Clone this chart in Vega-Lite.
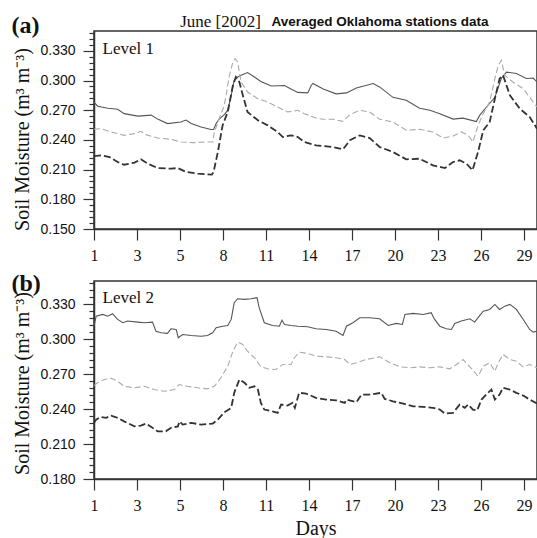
{
"$schema":"https://vega.github.io/schema/vega-lite/v6.json",
"background":"white",
"padding":{"left":10,"top":11,"right":0,"bottom":0},
"spacing":6,
"config":{
 "view":{"stroke":"#333","strokeWidth":1.5},
 "axis":{"domainColor":"#333","domainWidth":1.5,"tickColor":"#333","tickWidth":1.2,"grid":false,"labelColor":"#111","titleColor":"#111","labelFlush":false,"labelOverlap":false}
},
"datasets":{
"a":[
{"s":"solid","x":0,"v":0.278},{"s":"solid","x":0.09,"v":0.274},{"s":"solid","x":0.32,"v":0.272},{"s":"solid","x":0.55,"v":0.271},{"s":"solid","x":0.70,"v":0.2665},{"s":"solid","x":1.02,"v":0.264},{"s":"solid","x":1.33,"v":0.265},{"s":"solid","x":1.48,"v":0.261},{"s":"solid","x":1.71,"v":0.2565},{"s":"solid","x":2.02,"v":0.258},{"s":"solid","x":2.14,"v":0.260},{"s":"solid","x":2.26,"v":0.2565},{"s":"solid","x":2.49,"v":0.253},{"s":"solid","x":2.72,"v":0.2505},{"s":"solid","x":2.78,"v":0.2505},{"s":"solid","x":2.84,"v":0.2565},{"s":"solid","x":2.91,"v":0.261},{"s":"solid","x":3.03,"v":0.2655},{"s":"solid","x":3.11,"v":0.270},{"s":"solid","x":3.19,"v":0.285},{"s":"solid","x":3.26,"v":0.300},{"s":"solid","x":3.34,"v":0.3035},{"s":"solid","x":3.46,"v":0.306},{"s":"solid","x":3.57,"v":0.308},{"s":"solid","x":3.73,"v":0.3035},{"s":"solid","x":3.88,"v":0.299},{"s":"solid","x":4.12,"v":0.2945},{"s":"solid","x":4.43,"v":0.295},{"s":"solid","x":4.58,"v":0.2915},{"s":"solid","x":4.74,"v":0.288},{"s":"solid","x":4.97,"v":0.2875},{"s":"solid","x":5.05,"v":0.295},{"s":"solid","x":5.09,"v":0.297},{"s":"solid","x":5.33,"v":0.2915},{"s":"solid","x":5.63,"v":0.2865},{"s":"solid","x":5.87,"v":0.2875},{"s":"solid","x":6.10,"v":0.2925},{"s":"solid","x":6.49,"v":0.297},{"s":"solid","x":6.64,"v":0.2935},{"s":"solid","x":6.95,"v":0.283},{"s":"solid","x":7.26,"v":0.280},{"s":"solid","x":7.57,"v":0.272},{"s":"solid","x":7.81,"v":0.270},{"s":"solid","x":8.04,"v":0.2665},{"s":"solid","x":8.35,"v":0.261},{"s":"solid","x":8.58,"v":0.262},{"s":"solid","x":8.89,"v":0.2585},{"s":"solid","x":8.97,"v":0.265},{"s":"solid","x":9.12,"v":0.273},{"s":"solid","x":9.32,"v":0.283},{"s":"solid","x":9.47,"v":0.302},{"s":"solid","x":9.59,"v":0.3085},{"s":"solid","x":9.82,"v":0.307},{"s":"solid","x":10.05,"v":0.302},{"s":"solid","x":10.21,"v":0.3025},{"s":"solid","x":10.30,"v":0.2985},
{"s":"light","x":0,"v":0.2507},{"s":"light","x":0.16,"v":0.2513},{"s":"light","x":0.40,"v":0.248},{"s":"light","x":0.70,"v":0.2446},{"s":"light","x":0.94,"v":0.2463},{"s":"light","x":1.09,"v":0.2487},{"s":"light","x":1.21,"v":0.2453},{"s":"light","x":1.48,"v":0.2419},{"s":"light","x":1.79,"v":0.2406},{"s":"light","x":2.02,"v":0.2379},{"s":"light","x":2.33,"v":0.2372},{"s":"light","x":2.57,"v":0.2379},{"s":"light","x":2.76,"v":0.2379},{"s":"light","x":2.80,"v":0.248},{"s":"light","x":2.91,"v":0.2614},{"s":"light","x":3.03,"v":0.2749},{"s":"light","x":3.15,"v":0.3053},{"s":"light","x":3.22,"v":0.317},{"s":"light","x":3.28,"v":0.322},{"s":"light","x":3.34,"v":0.3187},{"s":"light","x":3.42,"v":0.2985},{"s":"light","x":3.57,"v":0.2884},{"s":"light","x":3.81,"v":0.2816},{"s":"light","x":4.04,"v":0.2783},{"s":"light","x":4.27,"v":0.2732},{"s":"light","x":4.50,"v":0.2682},{"s":"light","x":4.74,"v":0.2699},{"s":"light","x":4.89,"v":0.2665},{"s":"light","x":5.16,"v":0.2621},{"s":"light","x":5.33,"v":0.2608},{"s":"light","x":5.56,"v":0.2608},{"s":"light","x":5.79,"v":0.2588},{"s":"light","x":5.95,"v":0.2655},{"s":"light","x":6.18,"v":0.2699},{"s":"light","x":6.41,"v":0.2682},{"s":"light","x":6.64,"v":0.2608},{"s":"light","x":6.95,"v":0.2581},{"s":"light","x":7.26,"v":0.2497},{"s":"light","x":7.57,"v":0.2507},{"s":"light","x":7.88,"v":0.248},{"s":"light","x":8.12,"v":0.2419},{"s":"light","x":8.35,"v":0.2439},{"s":"light","x":8.54,"v":0.248},{"s":"light","x":8.70,"v":0.2446},{"s":"light","x":8.81,"v":0.2379},{"s":"light","x":8.93,"v":0.2547},{"s":"light","x":9.05,"v":0.2665},{"s":"light","x":9.20,"v":0.2783},{"s":"light","x":9.32,"v":0.3018},{"s":"light","x":9.40,"v":0.3153},{"s":"light","x":9.47,"v":0.3204},{"s":"light","x":9.55,"v":0.3053},{"s":"light","x":9.74,"v":0.2985},{"s":"light","x":9.98,"v":0.2917},{"s":"light","x":10.21,"v":0.2783},{"s":"light","x":10.30,"v":0.2732},
{"s":"dark","x":0,"v":0.2237},{"s":"dark","x":0.16,"v":0.2244},{"s":"dark","x":0.36,"v":0.2227},{"s":"dark","x":0.55,"v":0.2177},{"s":"dark","x":0.70,"v":0.2149},{"s":"dark","x":0.94,"v":0.217},{"s":"dark","x":1.09,"v":0.2204},{"s":"dark","x":1.25,"v":0.216},{"s":"dark","x":1.48,"v":0.2116},{"s":"dark","x":1.79,"v":0.2109},{"s":"dark","x":1.95,"v":0.2116},{"s":"dark","x":2.14,"v":0.2076},{"s":"dark","x":2.41,"v":0.2059},{"s":"dark","x":2.74,"v":0.2049},{"s":"dark","x":2.78,"v":0.2076},{"s":"dark","x":2.88,"v":0.2278},{"s":"dark","x":2.99,"v":0.2547},{"s":"dark","x":3.11,"v":0.2682},{"s":"dark","x":3.23,"v":0.2951},{"s":"dark","x":3.30,"v":0.3035},{"s":"dark","x":3.38,"v":0.2985},{"s":"dark","x":3.46,"v":0.2851},{"s":"dark","x":3.57,"v":0.2682},{"s":"dark","x":3.81,"v":0.2598},{"s":"dark","x":4.04,"v":0.2547},{"s":"dark","x":4.27,"v":0.248},{"s":"dark","x":4.39,"v":0.2429},{"s":"dark","x":4.58,"v":0.2446},{"s":"dark","x":4.74,"v":0.2429},{"s":"dark","x":4.89,"v":0.2379},{"s":"dark","x":5.16,"v":0.2345},{"s":"dark","x":5.33,"v":0.2338},{"s":"dark","x":5.56,"v":0.2328},{"s":"dark","x":5.79,"v":0.2305},{"s":"dark","x":5.95,"v":0.2396},{"s":"dark","x":6.18,"v":0.2446},{"s":"dark","x":6.41,"v":0.2419},{"s":"dark","x":6.64,"v":0.2328},{"s":"dark","x":6.95,"v":0.2278},{"s":"dark","x":7.26,"v":0.2204},{"s":"dark","x":7.57,"v":0.221},{"s":"dark","x":7.88,"v":0.2143},{"s":"dark","x":8.16,"v":0.2116},{"s":"dark","x":8.35,"v":0.2177},{"s":"dark","x":8.50,"v":0.2194},{"s":"dark","x":8.66,"v":0.216},{"s":"dark","x":8.80,"v":0.2093},{"s":"dark","x":8.93,"v":0.2278},{"s":"dark","x":9.05,"v":0.2497},{"s":"dark","x":9.20,"v":0.2581},{"s":"dark","x":9.32,"v":0.2816},{"s":"dark","x":9.43,"v":0.3018},{"s":"dark","x":9.51,"v":0.3053},{"s":"dark","x":9.67,"v":0.2851},{"s":"dark","x":9.90,"v":0.2715},{"s":"dark","x":10.13,"v":0.2631},{"s":"dark","x":10.30,"v":0.2513}
],
"b":[
{"s":"solid","x":0,"v":0.3112},{"s":"solid","x":0.05,"v":0.3198},{"s":"solid","x":0.20,"v":0.3213},{"s":"solid","x":0.32,"v":0.3198},{"s":"solid","x":0.43,"v":0.3219},{"s":"solid","x":0.55,"v":0.317},{"s":"solid","x":0.67,"v":0.3142},{"s":"solid","x":0.78,"v":0.3156},{"s":"solid","x":1.02,"v":0.3147},{"s":"solid","x":1.17,"v":0.3142},{"s":"solid","x":1.36,"v":0.3147},{"s":"solid","x":1.44,"v":0.3069},{"s":"solid","x":1.56,"v":0.3056},{"s":"solid","x":1.71,"v":0.305},{"s":"solid","x":1.79,"v":0.309},{"s":"solid","x":1.91,"v":0.3084},{"s":"solid","x":1.96,"v":0.3013},{"s":"solid","x":2.06,"v":0.3041},{"s":"solid","x":2.26,"v":0.3032},{"s":"solid","x":2.49,"v":0.3026},{"s":"solid","x":2.64,"v":0.3032},{"s":"solid","x":2.76,"v":0.3056},{"s":"solid","x":2.84,"v":0.3099},{"s":"solid","x":2.99,"v":0.3112},{"s":"solid","x":3.11,"v":0.3118},{"s":"solid","x":3.19,"v":0.317},{"s":"solid","x":3.26,"v":0.3314},{"s":"solid","x":3.34,"v":0.3348},{"s":"solid","x":3.50,"v":0.3342},{"s":"solid","x":3.65,"v":0.3348},{"s":"solid","x":3.79,"v":0.3357},{"s":"solid","x":3.84,"v":0.3271},{"s":"solid","x":3.96,"v":0.3142},{"s":"solid","x":4.15,"v":0.3118},{"s":"solid","x":4.31,"v":0.3112},{"s":"solid","x":4.37,"v":0.3164},{"s":"solid","x":4.43,"v":0.3127},{"s":"solid","x":4.58,"v":0.3118},{"s":"solid","x":4.74,"v":0.3112},{"s":"solid","x":4.97,"v":0.3107},{"s":"solid","x":5.16,"v":0.309},{"s":"solid","x":5.40,"v":0.3084},{"s":"solid","x":5.63,"v":0.3069},{"s":"solid","x":5.79,"v":0.3032},{"s":"solid","x":5.87,"v":0.3112},{"s":"solid","x":6.02,"v":0.3142},{"s":"solid","x":6.18,"v":0.3185},{"s":"solid","x":6.41,"v":0.3185},{"s":"solid","x":6.64,"v":0.3176},{"s":"solid","x":6.84,"v":0.3118},{"s":"solid","x":7.03,"v":0.3136},{"s":"solid","x":7.17,"v":0.3127},{"s":"solid","x":7.23,"v":0.3213},{"s":"solid","x":7.42,"v":0.3222},{"s":"solid","x":7.65,"v":0.3213},{"s":"solid","x":7.84,"v":0.3228},{"s":"solid","x":7.92,"v":0.317},{"s":"solid","x":8.04,"v":0.3112},{"s":"solid","x":8.19,"v":0.309},{"s":"solid","x":8.31,"v":0.3084},{"s":"solid","x":8.39,"v":0.3136},{"s":"solid","x":8.54,"v":0.3156},{"s":"solid","x":8.74,"v":0.3176},{"s":"solid","x":8.85,"v":0.3147},{"s":"solid","x":8.93,"v":0.3185},{"s":"solid","x":9.05,"v":0.3241},{"s":"solid","x":9.20,"v":0.3256},{"s":"solid","x":9.32,"v":0.3299},{"s":"solid","x":9.43,"v":0.3256},{"s":"solid","x":9.55,"v":0.3284},{"s":"solid","x":9.67,"v":0.3299},{"s":"solid","x":9.82,"v":0.3256},{"s":"solid","x":9.98,"v":0.317},{"s":"solid","x":10.13,"v":0.3084},{"s":"solid","x":10.21,"v":0.3061},{"s":"solid","x":10.30,"v":0.3069},
{"s":"light","x":0,"v":0.2602},{"s":"light","x":0.08,"v":0.2626},{"s":"light","x":0.24,"v":0.2654},{"s":"light","x":0.40,"v":0.2665},{"s":"light","x":0.55,"v":0.2639},{"s":"light","x":0.70,"v":0.2596},{"s":"light","x":0.94,"v":0.2583},{"s":"light","x":1.17,"v":0.2596},{"s":"light","x":1.40,"v":0.2568},{"s":"light","x":1.64,"v":0.2553},{"s":"light","x":1.87,"v":0.2568},{"s":"light","x":1.98,"v":0.2611},{"s":"light","x":2.17,"v":0.2596},{"s":"light","x":2.41,"v":0.2583},{"s":"light","x":2.64,"v":0.2574},{"s":"light","x":2.80,"v":0.2596},{"s":"light","x":2.95,"v":0.2669},{"s":"light","x":3.11,"v":0.2768},{"s":"light","x":3.23,"v":0.2897},{"s":"light","x":3.34,"v":0.2975},{"s":"light","x":3.46,"v":0.2955},{"s":"light","x":3.57,"v":0.2897},{"s":"light","x":3.73,"v":0.2841},{"s":"light","x":3.88,"v":0.2763},{"s":"light","x":4.04,"v":0.2746},{"s":"light","x":4.23,"v":0.274},{"s":"light","x":4.31,"v":0.2763},{"s":"light","x":4.39,"v":0.2783},{"s":"light","x":4.58,"v":0.2783},{"s":"light","x":4.66,"v":0.2841},{"s":"light","x":4.77,"v":0.2889},{"s":"light","x":4.97,"v":0.2878},{"s":"light","x":5.16,"v":0.2855},{"s":"light","x":5.40,"v":0.2849},{"s":"light","x":5.63,"v":0.2841},{"s":"light","x":5.83,"v":0.2826},{"s":"light","x":5.95,"v":0.2783},{"s":"light","x":6.10,"v":0.2798},{"s":"light","x":6.33,"v":0.2826},{"s":"light","x":6.64,"v":0.2849},{"s":"light","x":6.88,"v":0.2798},{"s":"light","x":7.11,"v":0.2763},{"s":"light","x":7.34,"v":0.2755},{"s":"light","x":7.57,"v":0.2763},{"s":"light","x":7.81,"v":0.2755},{"s":"light","x":8.04,"v":0.2763},{"s":"light","x":8.27,"v":0.2746},{"s":"light","x":8.43,"v":0.2783},{"s":"light","x":8.58,"v":0.2826},{"s":"light","x":8.74,"v":0.2763},{"s":"light","x":8.93,"v":0.2682},{"s":"light","x":9.05,"v":0.2768},{"s":"light","x":9.20,"v":0.2798},{"s":"light","x":9.32,"v":0.2725},{"s":"light","x":9.40,"v":0.2798},{"s":"light","x":9.51,"v":0.2869},{"s":"light","x":9.67,"v":0.2826},{"s":"light","x":9.82,"v":0.2811},{"s":"light","x":9.98,"v":0.2763},{"s":"light","x":10.13,"v":0.2783},{"s":"light","x":10.30,"v":0.2755},
{"s":"dark","x":0,"v":0.2282},{"s":"dark","x":0.05,"v":0.231},{"s":"dark","x":0.16,"v":0.2333},{"s":"dark","x":0.28,"v":0.2325},{"s":"dark","x":0.40,"v":0.2344},{"s":"dark","x":0.55,"v":0.2325},{"s":"dark","x":0.70,"v":0.2295},{"s":"dark","x":0.94,"v":0.2252},{"s":"dark","x":1.09,"v":0.2258},{"s":"dark","x":1.21,"v":0.2276},{"s":"dark","x":1.36,"v":0.2239},{"s":"dark","x":1.48,"v":0.2209},{"s":"dark","x":1.67,"v":0.2209},{"s":"dark","x":1.79,"v":0.2239},{"s":"dark","x":1.95,"v":0.2252},{"s":"dark","x":1.99,"v":0.2295},{"s":"dark","x":2.06,"v":0.2267},{"s":"dark","x":2.26,"v":0.2282},{"s":"dark","x":2.49,"v":0.2267},{"s":"dark","x":2.76,"v":0.2276},{"s":"dark","x":2.88,"v":0.231},{"s":"dark","x":3.03,"v":0.2373},{"s":"dark","x":3.19,"v":0.2411},{"s":"dark","x":3.26,"v":0.254},{"s":"dark","x":3.38,"v":0.2654},{"s":"dark","x":3.50,"v":0.2626},{"s":"dark","x":3.61,"v":0.2583},{"s":"dark","x":3.73,"v":0.2596},{"s":"dark","x":3.81,"v":0.2568},{"s":"dark","x":3.88,"v":0.2454},{"s":"dark","x":3.96,"v":0.2396},{"s":"dark","x":4.15,"v":0.2381},{"s":"dark","x":4.27,"v":0.2368},{"s":"dark","x":4.35,"v":0.2439},{"s":"dark","x":4.50,"v":0.243},{"s":"dark","x":4.62,"v":0.2454},{"s":"dark","x":4.67,"v":0.2411},{"s":"dark","x":4.77,"v":0.254},{"s":"dark","x":4.93,"v":0.2534},{"s":"dark","x":5.16,"v":0.2497},{"s":"dark","x":5.40,"v":0.2482},{"s":"dark","x":5.63,"v":0.2476},{"s":"dark","x":5.83,"v":0.2454},{"s":"dark","x":5.87,"v":0.2482},{"s":"dark","x":6.10,"v":0.2459},{"s":"dark","x":6.22,"v":0.2525},{"s":"dark","x":6.41,"v":0.2525},{"s":"dark","x":6.68,"v":0.254},{"s":"dark","x":6.76,"v":0.2488},{"s":"dark","x":6.95,"v":0.2467},{"s":"dark","x":7.19,"v":0.2448},{"s":"dark","x":7.42,"v":0.2424},{"s":"dark","x":7.65,"v":0.2419},{"s":"dark","x":7.88,"v":0.2411},{"s":"dark","x":8.04,"v":0.2396},{"s":"dark","x":8.16,"v":0.2362},{"s":"dark","x":8.35,"v":0.2368},{"s":"dark","x":8.50,"v":0.2439},{"s":"dark","x":8.62,"v":0.2411},{"s":"dark","x":8.70,"v":0.2439},{"s":"dark","x":8.81,"v":0.2396},{"s":"dark","x":8.91,"v":0.239},{"s":"dark","x":9.01,"v":0.2482},{"s":"dark","x":9.12,"v":0.2525},{"s":"dark","x":9.24,"v":0.2568},{"s":"dark","x":9.32,"v":0.2482},{"s":"dark","x":9.43,"v":0.2525},{"s":"dark","x":9.51,"v":0.2583},{"s":"dark","x":9.67,"v":0.2568},{"s":"dark","x":9.82,"v":0.254},{"s":"dark","x":9.98,"v":0.2516},{"s":"dark","x":10.13,"v":0.2482},{"s":"dark","x":10.30,"v":0.2448}
]
},
"vconcat":[
{
 "width":443,"height":198,
 "data":{"name":"a"},
 "resolve":{"axis":{"x":"independent","y":"independent"}},
 "layer":[
  {"transform":[{"filter":"datum.s==='solid'"}],
   "mark":{"type":"line","color":"#555","strokeWidth":1.1},
   "encoding":{
    "x":{"field":"x","type":"quantitative","scale":{"domain":[0,10.3],"nice":false,"zero":false},
     "axis":{"orient":"bottom","values":[0,1,2,3,4,5,6,7,8,9,10],"labelExpr":"['1','3','5','8','11','14','17','20','23','26','29'][datum.value]","labelFont":"Liberation Serif","labelFontSize":16,"labelPadding":7,"tickSize":11,"title":null}},
    "y":{"field":"v","type":"quantitative","scale":{"domain":[0.15,0.35],"nice":false,"zero":false},
     "axis":{"orient":"left","values":[0.15,0.18,0.21,0.24,0.27,0.30,0.33],"format":".3f","labelFont":"Liberation Sans","labelFontSize":14,"labelPadding":8,"tickSize":11,"title":"Soil Moisture (m³ m⁻³)","titleFont":"Liberation Serif","titleFontSize":20,"titleFontWeight":"normal","titleAngle":-90,"titleX":-72,"titleY":108,"titleAlign":"center","titleBaseline":"middle"}}
   }},
  {"transform":[{"filter":"datum.s==='light'"}],
   "mark":{"type":"line","color":"#aaaaaa","strokeWidth":1.1,"strokeDash":[6,3]},
   "encoding":{
    "x":{"field":"x","type":"quantitative","scale":{"domain":[0,10.3],"nice":false,"zero":false},
     "axis":{"orient":"top","domain":false,"ticks":false,"labels":false,"title":"June [2002]","titleFont":"Liberation Serif","titleFontSize":17,"titleFontWeight":"normal","titleX":126,"titleY":-5,"titleAlign":"center","titleBaseline":"alphabetic","titleAngle":0}},
    "y":{"field":"v","type":"quantitative","scale":{"domain":[0.15,0.35],"nice":false,"zero":false},
     "axis":{"orient":"left","values":[0.156,0.162,0.168,0.174,0.186,0.192,0.198,0.204,0.216,0.222,0.228,0.234,0.246,0.252,0.258,0.264,0.276,0.282,0.288,0.294,0.306,0.312,0.318,0.324,0.336,0.342,0.348],"labels":false,"domain":false,"tickSize":5,"title":"(a)","titleFont":"Liberation Serif","titleFontSize":24,"titleFontWeight":"bold","titleAngle":0,"titleX":-83,"titleY":1,"titleAlign":"left","titleBaseline":"alphabetic"}}
   }},
  {"transform":[{"filter":"datum.s==='dark'"}],
   "mark":{"type":"line","color":"#333333","strokeWidth":1.8,"strokeDash":[7,3]},
   "encoding":{
    "x":{"field":"x","type":"quantitative","scale":{"domain":[0,10.3],"nice":false,"zero":false},
     "axis":{"orient":"top","domain":false,"ticks":false,"labels":false,"title":"Averaged Oklahoma stations data","titleFont":"Liberation Sans","titleFontSize":13.5,"titleFontWeight":"bold","titleX":177,"titleY":-6,"titleAlign":"left","titleBaseline":"alphabetic","titleAngle":0}},
    "y":{"field":"v","type":"quantitative","scale":{"domain":[0.15,0.35],"nice":false,"zero":false},"axis":null}
   }},
  {"data":{"values":[{"label":"Level 1"}]},
   "mark":{"type":"text","align":"left","baseline":"alphabetic","font":"Liberation Serif","fontSize":17,"color":"#111"},
   "encoding":{
    "x":{"datum":0.2,"type":"quantitative","axis":null},
    "y":{"datum":0.327,"type":"quantitative","axis":null},
    "text":{"field":"label"}
   }}
 ]
},
{
 "width":443,"height":198,
 "data":{"name":"b"},
 "resolve":{"axis":{"x":"independent","y":"independent"}},
 "layer":[
  {"transform":[{"filter":"datum.s==='solid'"}],
   "mark":{"type":"line","color":"#555","strokeWidth":1.1},
   "encoding":{
    "x":{"field":"x","type":"quantitative","scale":{"domain":[0,10.3],"nice":false,"zero":false},
     "axis":{"orient":"bottom","values":[0,1,2,3,4,5,6,7,8,9,10],"labelExpr":"['1','3','5','8','11','14','17','20','23','26','29'][datum.value]","labelFont":"Liberation Serif","labelFontSize":16,"labelPadding":7,"tickSize":11,"title":"Days","titleFont":"Liberation Serif","titleFontSize":20,"titleFontWeight":"normal","titleX":221.5,"titleY":55,"titleAlign":"center","titleBaseline":"alphabetic"}},
    "y":{"field":"v","type":"quantitative","scale":{"domain":[0.18,0.35],"nice":false,"zero":false},
     "axis":{"orient":"left","values":[0.18,0.21,0.24,0.27,0.30,0.33],"format":".3f","labelFont":"Liberation Sans","labelFontSize":14,"labelPadding":8,"tickSize":11,"title":"Soil Moisture (m³ m⁻³)","titleFont":"Liberation Serif","titleFontSize":20,"titleFontWeight":"normal","titleAngle":-90,"titleX":-72,"titleY":102,"titleAlign":"center","titleBaseline":"middle"}}
   }},
  {"transform":[{"filter":"datum.s==='light'"}],
   "mark":{"type":"line","color":"#aaaaaa","strokeWidth":1.1,"strokeDash":[6,3]},
   "encoding":{
    "x":{"field":"x","type":"quantitative","scale":{"domain":[0,10.3],"nice":false,"zero":false},"axis":null},
    "y":{"field":"v","type":"quantitative","scale":{"domain":[0.18,0.35],"nice":false,"zero":false},
     "axis":{"orient":"left","values":[0.186,0.192,0.198,0.204,0.216,0.222,0.228,0.234,0.246,0.252,0.258,0.264,0.276,0.282,0.288,0.294,0.306,0.312,0.318,0.324,0.336,0.342,0.348],"labels":false,"domain":false,"tickSize":5,"title":"(b)","titleFont":"Liberation Serif","titleFontSize":24,"titleFontWeight":"bold","titleAngle":0,"titleX":-83,"titleY":9,"titleAlign":"left","titleBaseline":"alphabetic"}}
   }},
  {"transform":[{"filter":"datum.s==='dark'"}],
   "mark":{"type":"line","color":"#333333","strokeWidth":1.8,"strokeDash":[7,3]},
   "encoding":{
    "x":{"field":"x","type":"quantitative","scale":{"domain":[0,10.3],"nice":false,"zero":false},"axis":null},
    "y":{"field":"v","type":"quantitative","scale":{"domain":[0.18,0.35],"nice":false,"zero":false},"axis":null}
   }},
  {"data":{"values":[{"label":"Level 2"}]},
   "mark":{"type":"text","align":"left","baseline":"alphabetic","font":"Liberation Serif","fontSize":17,"color":"#111"},
   "encoding":{
    "x":{"datum":0.2,"type":"quantitative","axis":null},
    "y":{"datum":0.3312,"type":"quantitative","axis":null},
    "text":{"field":"label"}
   }}
 ]
}
]
}
